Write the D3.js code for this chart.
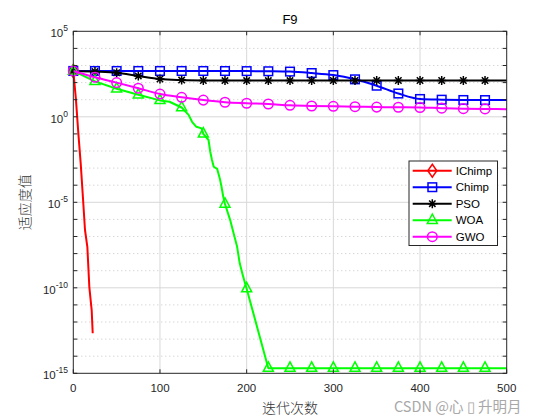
<!DOCTYPE html>
<html>
<head>
<meta charset="utf-8">
<script src="https://d3js.org/d3.v7.min.js"></script>
<style>
html,body{margin:0;padding:0;background:#fff;}
svg{display:block;}
</style>
</head>
<body>
<script>
// ---------------- data ----------------
const chartTitle = "F9";
const xLabel = "迭代次数";
const yLabel = "适应度值";
const seriesNames = ["IChimp", "Chimp", "PSO", "WOA", "GWO"];
const seriesColors = ["#ff0000", "#0000ff", "#000000", "#00ff00", "#ff00ff"];
const seriesMarkers = ["diamond", "square", "star", "triangle", "circle"];

const xTicks = [0, 100, 200, 300, 400, 500];
const yTickExps = [5, 0, -5, -10, -15];
const yDecades = [1e5,1e4,1e3,1e2,1e1,1e0,1e-1,1e-2,1e-3,1e-4,1e-5,1e-6,1e-7,1e-8,1e-9,1e-10,1e-11,1e-12,1e-13,1e-14,1e-15];

const markerIters = [0,25,50,75,100,125,150,175,200,225,250,275,300,325,350,375,400,425,450,475];

const ichimpIters = [0, 3.1, 5.8, 8.5, 10.8, 13.5, 16.2, 18.5, 21.2, 22.4];
const ichimpVals  = [480, 9.5, 0.11, 2.0e-3, 3.4e-5, 2.4e-7, 2.5e-8, 1.1e-10, 5.0e-12, 2.2e-13];

const stepIters = [0,25,50,75,100,125,150,175,200,225,250,275,300,325,350,375,400,425,450,475,500];
const chimpVals = [480,478,478,478,478,478,477,475,470,460,440,362,275,155,66,23,11,10,9.6,9.5,9.5];
const psoVals   = [480,440,380,245,162,141,133,131,131,131,131,132,132,132,132,132,132,132,132,132,132];
const gwoVals   = [480,204,100,47,21.4,13.8,9.5,7.1,6.2,5.6,4.7,4.3,4.1,3.9,3.7,3.6,3.5,3.2,3.0,2.9,2.8];

const woaIters = [0,25,50,75,100,111,125,133,137,142,148,150,156,158,160,162,166,169,171,173,175,181,185,189,192,196,200,225,250,275,300,325,350,375,400,425,450,475,500];
const woaVals  = [480,118,44,19.5,9.1,7.6,3.5,1.3,0.51,0.26,0.21,0.1,0.044,9.1e-3,2.95e-3,1.2e-3,8.9e-4,2.5e-4,8.1e-5,2.1e-5,7.9e-6,9.1e-7,1.5e-7,2.5e-8,2.7e-9,4.5e-10,8.9e-11,2.0e-15,2.0e-15,2.0e-15,2.0e-15,2.0e-15,2.0e-15,2.0e-15,2.0e-15,2.0e-15,2.0e-15,2.0e-15,2.0e-15];

// ---------------- layout ----------------
const W = 560, H = 420;
const L = 73.3, R = 506.7, T = 31.3, B = 373.3;
const FONT = "'Liberation Sans', Arial, Helvetica, sans-serif";
const CJK = "'Noto Sans CJK SC', sans-serif";

const svg = d3.select("body").append("svg").attr("width", W).attr("height", H);
const x = d3.scaleLinear().domain([0, 500]).range([L, R]);
const y = d3.scaleLog().domain([1e-15, 1e5]).range([B, T]);

svg.append("rect").attr("x", L).attr("y", T).attr("width", R - L).attr("height", B - T).attr("fill", "#fff");

// grid
const grid = svg.append("g");
yDecades.forEach(v => {
  const e = Math.round(Math.log10(v));
  if (e === 5 || e === -15) return;
  const major = yTickExps.includes(e);
  grid.append("line").attr("x1", L).attr("x2", R).attr("y1", y(v)).attr("y2", y(v))
    .attr("stroke", major ? "#d8d8d8" : "#b8b8b8")
    .attr("stroke-width", major ? 1 : 0.8)
    .attr("stroke-dasharray", major ? null : "1,3");
});
xTicks.forEach(v => {
  if (v === 0 || v === 500) return;
  grid.append("line").attr("x1", x(v)).attr("x2", x(v)).attr("y1", T).attr("y2", B)
    .attr("stroke", "#d8d8d8").attr("stroke-width", 1);
});

function drawMarker(g, type, cx, cy, color) {
  const sw = 1.5;
  if (type === "diamond") {
    g.append("path").attr("d", `M${cx},${cy-6.5}L${cx+4.5},${cy}L${cx},${cy+6.5}L${cx-4.5},${cy}Z`)
      .attr("fill", "none").attr("stroke", color).attr("stroke-width", sw);
  } else if (type === "square") {
    g.append("rect").attr("x", cx - 4.3).attr("y", cy - 4.3).attr("width", 8.6).attr("height", 8.6)
      .attr("fill", "none").attr("stroke", color).attr("stroke-width", sw);
  } else if (type === "circle") {
    g.append("circle").attr("cx", cx).attr("cy", cy).attr("r", 4.8)
      .attr("fill", "none").attr("stroke", color).attr("stroke-width", sw);
  } else if (type === "triangle") {
    g.append("path").attr("d", `M${cx},${cy-6.2}L${cx+5},${cy+3.2}L${cx-5},${cy+3.2}Z`)
      .attr("fill", "none").attr("stroke", color).attr("stroke-width", sw);
  } else if (type === "star") {
    const a = 4.5, d = 3.2;
    g.append("path").attr("d",
      `M${cx-a},${cy}L${cx+a},${cy}M${cx},${cy-a}L${cx},${cy+a}M${cx-d},${cy-d}L${cx+d},${cy+d}M${cx-d},${cy+d}L${cx+d},${cy-d}`)
      .attr("fill", "none").attr("stroke", color).attr("stroke-width", sw);
  }
}

const lineStraight = d3.line().x(d => x(d[0])).y(d => y(d[1]));
const lineSmooth = d3.line().x(d => x(d[0])).y(d => y(d[1])).curve(d3.curveMonotoneX);

const seriesData = [
  { pts: ichimpIters.map((t, i) => [t, ichimpVals[i]]), gen: lineStraight, marks: [[0, ichimpVals[0]]] },
  { pts: stepIters.map((t, i) => [t, chimpVals[i]]), gen: lineSmooth, marks: markerIters.map(t => [t, chimpVals[stepIters.indexOf(t)]]) },
  { pts: stepIters.map((t, i) => [t, psoVals[i]]), gen: lineSmooth, marks: markerIters.map(t => [t, psoVals[stepIters.indexOf(t)]]) },
  { pts: woaIters.map((t, i) => [t, woaVals[i]]), gen: lineStraight, marks: markerIters.map(t => [t, woaVals[woaIters.indexOf(t)]]) },
  { pts: stepIters.map((t, i) => [t, gwoVals[i]]), gen: lineSmooth, marks: markerIters.map(t => [t, gwoVals[stepIters.indexOf(t)]]) }
];

seriesData.forEach((s, i) => {
  const g = svg.append("g");
  g.append("path").attr("d", s.gen(s.pts)).attr("fill", "none")
    .attr("stroke", seriesColors[i]).attr("stroke-width", 2).attr("stroke-linejoin", "round");
  s.marks.forEach(m => drawMarker(g, seriesMarkers[i], x(m[0]), y(m[1]), seriesColors[i]));
});

// axes box and ticks
const ax = svg.append("g");
ax.append("rect").attr("x", L).attr("y", T).attr("width", R - L).attr("height", B - T)
  .attr("fill", "none").attr("stroke", "#262626").attr("stroke-width", 1);
xTicks.forEach(v => {
  ax.append("line").attr("x1", x(v)).attr("x2", x(v)).attr("y1", B).attr("y2", B - 4).attr("stroke", "#262626");
  ax.append("line").attr("x1", x(v)).attr("x2", x(v)).attr("y1", T).attr("y2", T + 4).attr("stroke", "#262626");
  ax.append("text").attr("x", x(v)).attr("y", 392).attr("text-anchor", "middle")
    .attr("font-family", FONT).attr("font-size", 11.5).attr("fill", "#262626").text(v);
});
yDecades.forEach(v => {
  ax.append("line").attr("x1", L).attr("x2", L + 4).attr("y1", y(v)).attr("y2", y(v)).attr("stroke", "#262626");
  ax.append("line").attr("x1", R).attr("x2", R - 4).attr("y1", y(v)).attr("y2", y(v)).attr("stroke", "#262626");
});
yTickExps.forEach(e => {
  const t = ax.append("text").attr("x", 68).attr("y", y(Math.pow(10, e)) + 6)
    .attr("text-anchor", "end").attr("font-family", FONT).attr("fill", "#262626");
  t.append("tspan").attr("font-size", 11.5).text("10");
  t.append("tspan").attr("font-size", 8.5).attr("dy", -6).text(e < 0 ? "-" + Math.abs(e) : String(e));
});

// title and labels
svg.append("text").attr("x", (L + R) / 2).attr("y", 24).attr("text-anchor", "middle")
  .attr("font-family", FONT).attr("font-size", 13).attr("fill", "#000").text(chartTitle);
svg.append("text").attr("x", (L + R) / 2).attr("y", 413).attr("text-anchor", "middle")
  .attr("font-family", CJK).attr("font-size", 14).attr("font-weight", 300).attr("fill", "#333").text(xLabel);
svg.append("text").attr("transform", `translate(30,${(T + B) / 2}) rotate(-90)`).attr("text-anchor", "middle")
  .attr("font-family", CJK).attr("font-size", 14).attr("font-weight", 300).attr("fill", "#333").text(yLabel);

// legend
const lg = svg.append("g");
lg.append("rect").attr("x", 409).attr("y", 161).attr("width", 88.5).attr("height", 84.5)
  .attr("fill", "#fff").attr("stroke", "#262626").attr("stroke-width", 1);
seriesNames.forEach((n, i) => {
  const yy = 170.7 + i * 16.5;
  lg.append("line").attr("x1", 412.7).attr("x2", 451.7).attr("y1", yy).attr("y2", yy)
    .attr("stroke", seriesColors[i]).attr("stroke-width", 2);
  drawMarker(lg, seriesMarkers[i], 432.3, yy, seriesColors[i]);
  lg.append("text").attr("x", 455.7).attr("y", yy + 4).attr("font-family", FONT).attr("font-size", 11.5)
    .attr("fill", "#000").text(n);
});

// watermark
svg.append("text").attr("x", 394).attr("y", 411.5).attr("font-family", CJK).attr("font-size", 14.5)
  .attr("fill", "#a8a8a8").text("CSDN @心 ▯ 升明月");
</script>
</body>
</html>
